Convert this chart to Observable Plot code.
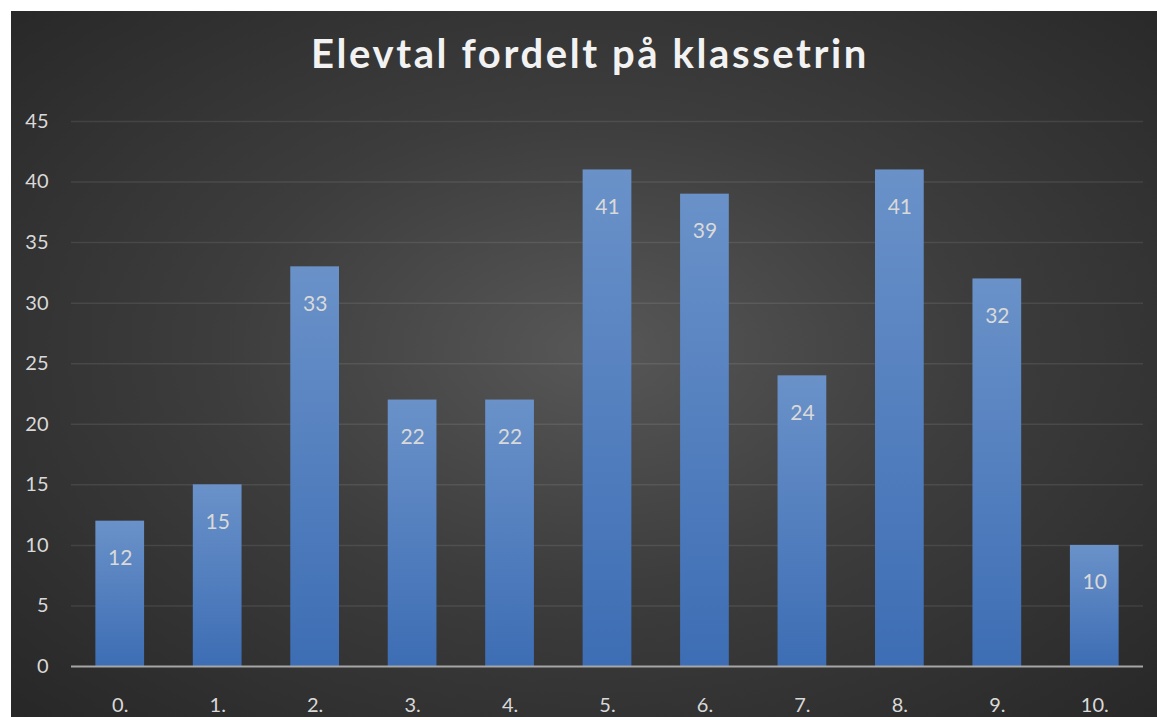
<!DOCTYPE html>
<html>
<head>
<meta charset="utf-8">
<script src="https://cdn.jsdelivr.net/npm/d3@7"></script>
<script src="https://cdn.jsdelivr.net/npm/@observablehq/plot@0.6"></script>
<style>
  html, body { margin: 0; padding: 0; background: #ffffff; }
  #panel {
    position: absolute; left: 11px; top: 11px; width: 1146px; height: 706px;
    background: radial-gradient(ellipse farthest-corner at 51% 48%, #575757 0%, #3d3d3d 45%, #272727 100%);
    overflow: hidden;
  }
  #title {
    height: 80px; box-sizing: border-box; padding-top: 4px; padding-left: 12px;
    display: flex; align-items: center; justify-content: center;
    font-family: Lato, "Open Sans", sans-serif; font-weight: bold; font-size: 40px;
    letter-spacing: 2.6px; color: #f2f2f2;
  }
  #chart svg { display: block; }
</style>
</head>
<body>
<div id="panel">
  <div id="title">Elevtal fordelt på klassetrin</div>
  <div id="chart"></div>
</div>
<script>
const categories = ["0.", "1.", "2.", "3.", "4.", "5.", "6.", "7.", "8.", "9.", "10."];
const values = [12, 15, 33, 22, 22, 41, 39, 24, 41, 32, 10];
const yTicks = [0, 5, 10, 15, 20, 25, 30, 35, 40, 45];

const data = categories.map((c, i) => ({cat: c, val: values[i]}));

const chart = Plot.plot({
  width: 1146,
  height: 626,
  marginTop: 30,
  marginBottom: 51,
  marginLeft: 60,
  marginRight: 14,
  style: {background: "transparent", color: "#d9d9d9", fontFamily: "Lato, 'Open Sans', sans-serif", fontSize: "20px"},
  x: {domain: categories, paddingInner: 0.5, paddingOuter: 0.25, round: false, label: null, tickSize: 0, tickPadding: 31},
  y: {domain: [0, 45], ticks: yTicks, label: null, tickSize: 0, tickPadding: 23},
  marks: [
    Plot.ruleY(yTicks.filter(d => d > 0), {stroke: "#ffffff", strokeOpacity: 0.09, strokeWidth: 1.5}),
    Plot.barY(data, {x: "cat", y: "val", fill: "url(#barGrad)", ariaLabel: "bars"}),
    Plot.ruleY([0], {stroke: "#a6a6a6", strokeWidth: 2}),
    Plot.text(data, {x: "cat", y: "val", text: d => String(d.val), dy: 37, fill: "#d9d9d9", fontSize: 21})
  ]
});

const svg = d3.select(chart);
const defs = svg.insert("defs", ":first-child");
const g = defs.append("linearGradient").attr("id", "barGrad").attr("x1", 0).attr("y1", 0).attr("x2", 0).attr("y2", 1);
g.append("stop").attr("offset", "0%").attr("stop-color", "#6a92c9");
g.append("stop").attr("offset", "100%").attr("stop-color", "#3d6db4");
const f = defs.append("filter").attr("id", "barShadow").attr("x", "-20%").attr("y", "-5%").attr("width", "150%").attr("height", "110%");
f.append("feDropShadow").attr("dx", 3).attr("dy", 0).attr("stdDeviation", 2.5).attr("flood-color", "#000").attr("flood-opacity", 0.55);
svg.selectAll('g[aria-label="bars"]').attr("filter", "url(#barShadow)");

document.getElementById("chart").appendChild(chart);
</script>
</body>
</html>
